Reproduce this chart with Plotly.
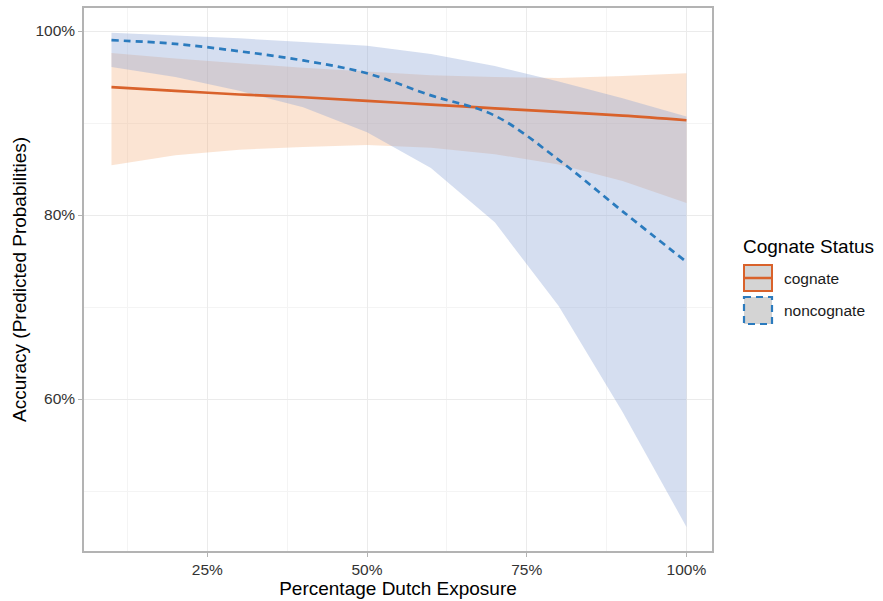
import plotly.graph_objects as go

# Percentage Dutch exposure (x)
exposure = [10, 20, 30, 40, 50, 60, 70, 80, 90, 100]

# Cognate: predicted probability (%) and 95% CI
cog_fit = [93.9, 93.5, 93.1, 92.8, 92.4, 92.0, 91.6, 91.2, 90.8, 90.3]
cog_hi = [97.6, 97.0, 96.5, 96.0, 95.6, 95.2, 95.0, 94.9, 95.1, 95.4]
cog_lo = [85.4, 86.5, 87.1, 87.4, 87.6, 87.3, 86.6, 85.5, 83.7, 81.3]

# Noncognate: predicted probability (%) and 95% CI
non_fit = [99.0, 98.6, 97.8, 96.8, 95.4, 93.0, 90.8, 86.0, 80.4, 74.9]
non_hi = [99.8, 99.5, 99.2, 98.8, 98.4, 97.5, 96.2, 94.5, 92.7, 90.7]
non_lo = [96.1, 95.0, 93.5, 91.7, 89.0, 85.1, 79.2, 70.1, 58.6, 46.1]

x_ticks = [25, 50, 75, 100]
x_labels = ["25%", "50%", "75%", "100%"]
y_ticks = [60, 80, 100]
y_labels = ["60%", "80%", "100%"]

ORANGE = "#D9622B"
BLUE = "#2B7BBE"
ORANGE_FILL = "rgba(244,172,118,0.32)"
BLUE_FILL = "rgba(135,161,212,0.35)"
FONT = "Liberation Sans, Arial, sans-serif"
TICK_COLOR = "#333333"

fig = go.Figure()

# ribbons
fig.add_trace(go.Scatter(
    x=exposure + exposure[::-1], y=cog_hi + cog_lo[::-1],
    fill="toself", fillcolor=ORANGE_FILL, line=dict(width=0),
    mode="lines", hoverinfo="skip", showlegend=False))
fig.add_trace(go.Scatter(
    x=exposure + exposure[::-1], y=non_hi + non_lo[::-1],
    fill="toself", fillcolor=BLUE_FILL, line=dict(width=0),
    mode="lines", hoverinfo="skip", showlegend=False))

# lines
fig.add_trace(go.Scatter(
    x=exposure, y=cog_fit, mode="lines", name="cognate",
    line=dict(color=ORANGE, width=2.7, shape="spline"), showlegend=False))
fig.add_trace(go.Scatter(
    x=exposure, y=non_fit, mode="lines", name="noncognate",
    line=dict(color=BLUE, width=2.7, dash="7px,5px", shape="spline"), showlegend=False))

L, R, T, B = 84, 171, 8, 50
W, H = 883, 601
pw, ph = W - L - R, H - T - B


def px(xp):
    return (xp - L) / pw


def py(yp):
    return (H - B - yp) / ph


shapes = []
annotations = []
# custom legend
annotations.append(dict(x=px(741), y=py(246), xref="paper", yref="paper",
                        text="Cognate Status", showarrow=False, xanchor="left",
                        yanchor="middle", font=dict(family=FONT, size=19, color="#000000")))
# cognate key
shapes.append(dict(type="rect", xref="paper", yref="paper",
                   x0=px(744), x1=px(772), y0=py(265), y1=py(291),
                   fillcolor="#D4D4D4", line=dict(color=ORANGE, width=2)))
shapes.append(dict(type="line", xref="paper", yref="paper",
                   x0=px(744), x1=px(772), y0=py(278), y1=py(278),
                   line=dict(color=ORANGE, width=2.5)))
annotations.append(dict(x=px(782), y=py(279), xref="paper", yref="paper",
                        text="cognate", showarrow=False, xanchor="left",
                        yanchor="middle", font=dict(family=FONT, size=15.5, color="#1a1a1a")))
# noncognate key
shapes.append(dict(type="rect", xref="paper", yref="paper",
                   x0=px(744), x1=px(772), y0=py(297), y1=py(324),
                   fillcolor="#D4D4D4", line=dict(color=BLUE, width=2.2, dash="7px,5px")))
annotations.append(dict(x=px(782), y=py(310), xref="paper", yref="paper",
                        text="noncognate", showarrow=False, xanchor="left",
                        yanchor="middle", font=dict(family=FONT, size=15.5, color="#1a1a1a")))

fig.update_layout(
    width=W, height=H,
    margin=dict(l=L, r=R, t=T, b=B),
    paper_bgcolor="white", plot_bgcolor="white",
    font=dict(family=FONT, size=15.5, color=TICK_COLOR),
    shapes=shapes, annotations=annotations,
    showlegend=False,
)

fig.update_xaxes(
    range=[5.7, 104.0], tickvals=x_ticks, ticktext=x_labels,
    showgrid=True, gridcolor="#EBEBEB", gridwidth=1,
    minor=dict(dtick=12.5, tick0=0, showgrid=True, gridcolor="#F4F4F4", gridwidth=1, ticklen=0),
    showline=True, linecolor="#B3B3B3", linewidth=1.5, mirror=True,
    ticks="outside", ticklen=4, tickcolor="#B3B3B3", tickwidth=1,
    zeroline=False, automargin=False,
    tickfont=dict(family=FONT, size=15.5, color=TICK_COLOR),
    title=dict(text="Percentage Dutch Exposure", standoff=4,
               font=dict(family=FONT, size=19, color="#000000")),
)
fig.update_yaxes(
    range=[43.48, 102.5], tickvals=y_ticks, ticktext=y_labels,
    showgrid=True, gridcolor="#EBEBEB", gridwidth=1,
    minor=dict(dtick=10, tick0=0, showgrid=True, gridcolor="#F4F4F4", gridwidth=1, ticklen=0),
    showline=True, linecolor="#B3B3B3", linewidth=1.5, mirror=True,
    ticks="outside", ticklen=4, tickcolor="#B3B3B3", tickwidth=1,
    zeroline=False, automargin=False,
    tickfont=dict(family=FONT, size=15.5, color=TICK_COLOR),
    title=dict(text="Accuracy (Predicted Probabilities)", standoff=4,
               font=dict(family=FONT, size=19, color="#000000")),
)

fig.write_html("out.html", config={"displayModeBar": False},
               post_script="document.body.style.margin='0px';")
